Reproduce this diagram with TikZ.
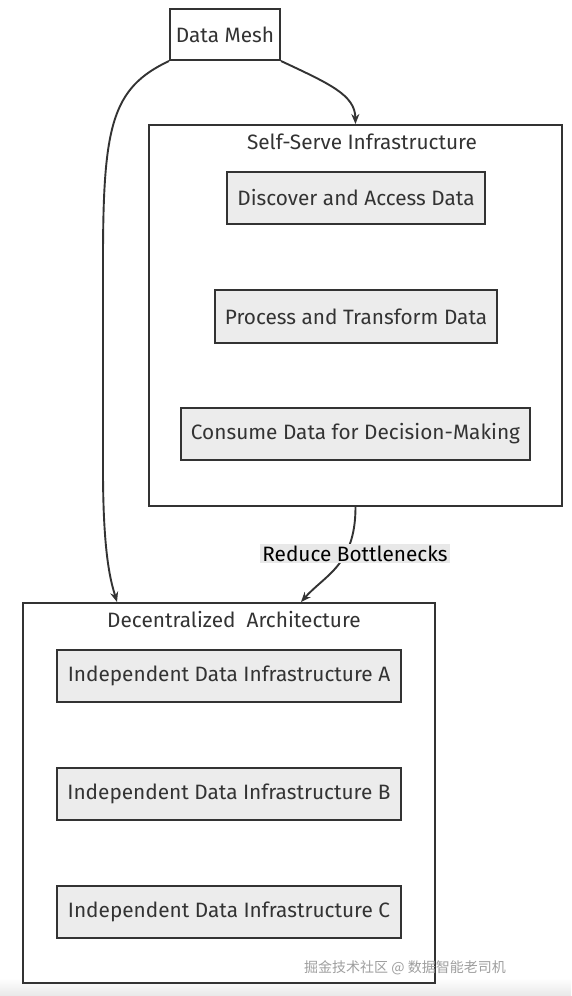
\documentclass[tikz,border=0pt]{standalone}
\usepackage{fontspec}
\setmainfont{Fira Sans}
\newfontfamily\cjk{Noto Sans CJK SC}
\usepackage{xcolor}
\usepackage{tikz}
\usetikzlibrary{arrows.meta,positioning,calc}
\definecolor{edgegray}{RGB}{51,51,51}
\definecolor{boxfill}{RGB}{236,236,236}
\definecolor{labelfill}{RGB}{232,232,232}

\tikzset{
    leaf/.style={draw=edgegray, line width=2pt, fill=boxfill, text=edgegray,
        minimum height=52pt, inner sep=0pt, font=\fontsize{20.8}{24}\selectfont},
    cluster/.style={draw=edgegray, line width=2pt, fill=white, inner sep=0pt},
    title/.style={text=edgegray, font=\fontsize{20.8}{24}\selectfont},
    flow/.style={draw=edgegray, line width=1.9pt, -{Stealth[length=10pt,width=8pt]}}
}

\begin{document}
\begin{tikzpicture}[x=1pt, y=-1pt]
    % Canvas - 571 x 996 pixels, y grows downward
    \useasboundingbox (0,0) rectangle (571,996);
    \fill[white] (0,0) rectangle (571,996);
    \shade[top color=white, bottom color=gray!18] (0,978) rectangle (571,996);

    % Top node
    \node[leaf, fill=white, minimum width=110pt, minimum height=51pt] (mesh) at (225,34.5) {Data Mesh};

    % Self-serve subgraph
    \node[cluster, minimum width=413pt, minimum height=381pt] (serve) at (355.5,315.5) {};
    \node[title] (servetitle) at (362,142) {Self-Serve Infrastructure};
    \node[leaf, minimum width=258pt] (discover) at (356,198) {Discover and Access Data};
    \node[leaf, minimum width=282pt, minimum height=53pt] (process) at (356,316.5) {Process and Transform Data};
    \node[leaf, minimum width=349pt] (consume) at (355.5,434) {Consume Data for Decision-Making};

    % Decentralized subgraph
    \node[cluster, minimum width=412pt, minimum height=380pt] (decen) at (229,793) {};
    \node[title] (decentitle) at (234,620) {Decentralized\ \ Architecture};
    \node[leaf, minimum width=344pt] (infraA) at (229,676) {Independent Data Infrastructure A};
    \node[leaf, minimum width=344pt] (infraB) at (229,794) {Independent Data Infrastructure B};
    \node[leaf, minimum width=344pt] (infraC) at (229,911.5) {Independent Data Infrastructure C};

    % Edges
    \draw[flow] (mesh.south east) .. controls (330,84) and (355,95) .. (serve.north);
    \draw[flow] (mesh.south west) .. controls (112,88) and (103,125) .. (103,260)
        -- (103,470) .. controls (103,560) and (112,585) .. ($(decen.north west)+(95,0)$);
    \draw[flow] (serve.south) .. controls (355.5,565) and (325,575) .. ($(decen.north west)+(279,0)$);

    % Edge label
    \node[fill=labelfill, text=black, inner sep=2pt,
          font=\fontsize{20.8}{24}\selectfont] (reduce) at (355,553.5) {Reduce Bottlenecks};

    % Watermark
    \node[text=gray!75, font=\cjk\fontsize{14}{16}\selectfont] (mark) at (405,968) {掘金技术社区 @ 数据智能老司机};
\end{tikzpicture}
\end{document}
